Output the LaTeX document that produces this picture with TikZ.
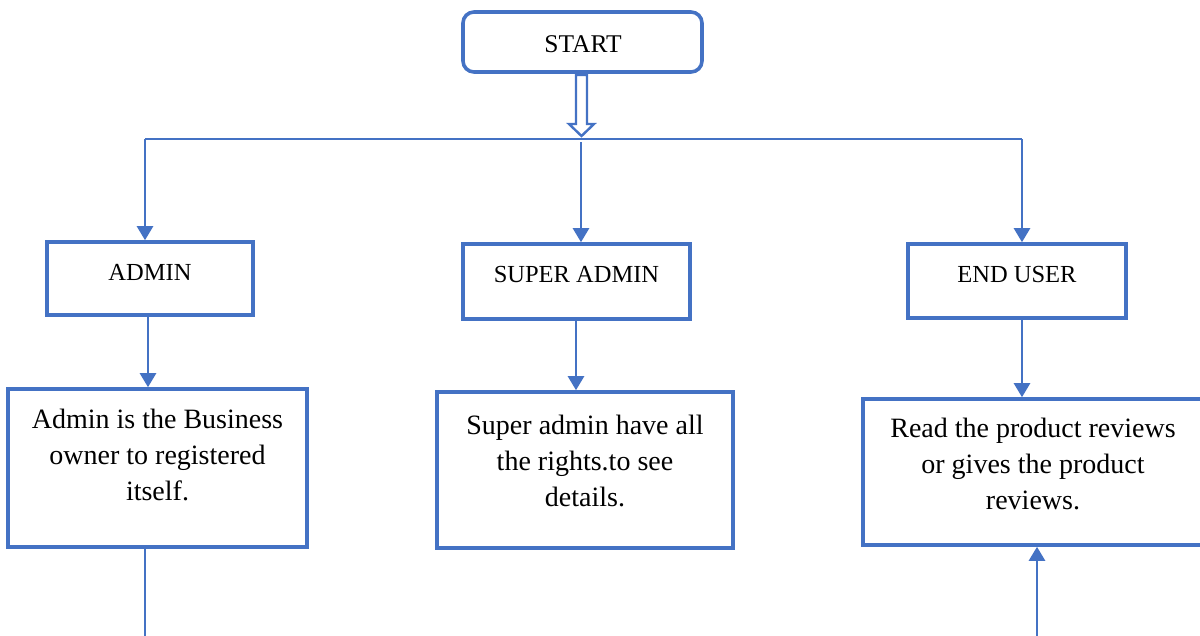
\documentclass[tikz,border=0pt]{standalone}
\usepackage{fontspec}
\setmainfont{Liberation Serif}
\usetikzlibrary{arrows.meta}
\definecolor{myblue}{RGB}{68,114,196}
\tikzset{
  boxframe/.style={draw=myblue, line width=3.6pt, rectangle, inner sep=0pt, fill=white},
  lab/.style={font=\fontsize{24.5}{28}\selectfont, anchor=base, inner sep=0pt},
  body/.style={font=\fontsize{28}{36}\selectfont, align=center, anchor=north, inner sep=0pt},
  conn/.style={draw=myblue, line width=2.6pt},
  arr/.style={conn, -{Triangle[width=16pt,length=14pt]}},
}
\begin{document}
\begin{tikzpicture}[x=1pt,y=1pt]
\useasboundingbox (0,0) rectangle (1200,-635);
% boxes
\node[boxframe, rounded corners=11pt, minimum width=239pt, minimum height=60pt] (start) at (582.5,-42) {};
\node[boxframe, minimum width=206pt, minimum height=73pt] (admin) at (150,-278.5) {};
\node[boxframe, minimum width=227pt, minimum height=75pt] (super) at (576.5,-281.5) {};
\node[boxframe, minimum width=218pt, minimum height=74pt] (enduser) at (1017,-281) {};
\node[boxframe, minimum width=299pt, minimum height=158pt] (admind) at (157.5,-468) {};
\node[boxframe, minimum width=296pt, minimum height=156pt] (superd) at (585,-470) {};
\node[boxframe, minimum width=340pt, minimum height=146pt] (endd) at (1033,-472) {};
% texts
\node[lab, font=\fontsize{25.5}{28}\selectfont] (tstart) at (583,-52) {START};
\node[lab] (tadmin) at (150,-280) {ADMIN};
\node[lab] (tsuper) at (576.5,-282) {SUPER ADMIN};
\node[lab] (tend) at (1017,-282) {END USER};
\node[body] (tadmind) at (157.5,-402.8) {\strut Admin is the Business\\owner to registered\\itself.};
\node[body] (tsuperd) at (585,-408.8) {\strut Super admin have all\\the rights.to see\\details.};
\node[body] (tendd) at (1033,-411.8) {\strut Read the product reviews\\or gives the product\\reviews.};
% hollow block arrow
\draw[myblue, line width=2.4pt, fill=white, line join=miter]
  (576,-75) -- (576,-124) -- (569,-124) -- (581.5,-136) -- (594,-124) -- (587,-124) -- (587,-75) -- cycle;
% bus
\coordinate (busL) at (145,-139);
\coordinate (busR) at (1022,-139);
\coordinate (busM) at (581,-142);
\draw[conn] (busL) -- (busR);
\draw[arr] (busL) -- (busL |- admin.north);
\draw[arr] (busM) -- (busM |- super.north);
\draw[arr] (busR) -- (busR |- enduser.north);
% down arrows
\coordinate (a1) at (148,0);
\coordinate (a2) at (576,0);
\coordinate (a3) at (1022,0);
\draw[arr] (a1 |- admin.south) -- (a1 |- admind.north);
\draw[arr] (a2 |- super.south) -- (a2 |- superd.north);
\draw[arr] (a3 |- enduser.south) -- (a3 |- endd.north);
% bottom lines
\coordinate (bl) at (145,-636);
\coordinate (br) at (1037,-636);
\draw[conn] (bl |- admind.south) -- (bl);
\draw[arr] (br) -- (br |- endd.south);
\end{tikzpicture}
\end{document}
